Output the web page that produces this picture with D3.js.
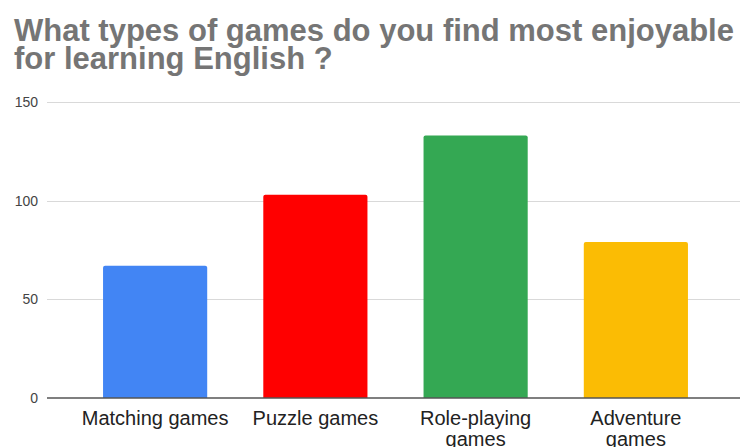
<!DOCTYPE html>
<html>
<head>
<meta charset="utf-8">
<script src="https://cdn.jsdelivr.net/npm/d3@7/dist/d3.min.js"></script>
<style>
  html, body { margin: 0; padding: 0; background: #fff; }
  svg { display: block; }
</style>
</head>
<body>
<svg id="chart" width="740" height="447"></svg>
<script>
// Survey answers: favourite game types for learning English
const categories = ["Matching games", "Puzzle games", "Role-playing games", "Adventure games"];
const categoryLines = [["Matching games"], ["Puzzle games"], ["Role-playing", "games"], ["Adventure", "games"]];
const counts = [67, 103, 133, 79];
const barColors = ["#4285F4", "#FF0000", "#34A853", "#FBBC04"];
const yTicks = [0, 50, 100, 150];
const titleLines = ["What types of games do you find most enjoyable", "for learning English ?"];

const W = 740, H = 447;
const svg = d3.select("#chart");
const font = "'Liberation Sans', Arial, sans-serif";

const plot = { left: 47, right: 740, top: 102, bottom: 398 };

const x = d3.scaleBand()
  .domain(categories)
  .range([75, 716])
  .paddingInner(0.35)
  .paddingOuter(0.175);

const y = d3.scaleLinear()
  .domain([0, 150])
  .range([plot.bottom, plot.top]);

// Title
const title = svg.append("g").attr("font-family", font).attr("font-weight", "bold")
  .attr("fill", "#757575").attr("font-size", 31);
title.selectAll("text").data(titleLines).enter().append("text")
  .attr("x", 14)
  .attr("y", (d, i) => 41 + i * 28)
  .text(d => d);

// Horizontal gridlines
svg.append("g").selectAll("line").data(yTicks.filter(t => t !== 0)).enter().append("line")
  .attr("x1", plot.left).attr("x2", plot.right)
  .attr("y1", d => Math.round(y(d)) + 0.5).attr("y2", d => Math.round(y(d)) + 0.5)
  .attr("stroke", "#d9d9d9").attr("stroke-width", 1);

// Y axis labels
const yAxis = d3.axisLeft(y).tickValues(yTicks).tickSize(0).tickPadding(0);
const yg = svg.append("g").attr("transform", "translate(38,0)").call(yAxis);
yg.select(".domain").remove();
yg.selectAll("text").attr("font-family", font).attr("font-size", 14).attr("fill", "#444");

// Bars with slightly rounded tops
const r = 2;
svg.append("g").selectAll("path").data(categories).enter().append("path")
  .attr("fill", (d, i) => barColors[i])
  .attr("d", (d, i) => {
    const x0 = x(d), x1 = x(d) + x.bandwidth();
    const y0 = y(counts[i]), yb = y(0);
    return `M${x0},${yb}V${y0 + r}Q${x0},${y0} ${x0 + r},${y0}H${x1 - r}Q${x1},${y0} ${x1},${y0 + r}V${yb}Z`;
  });

// Baseline
svg.append("line")
  .attr("x1", plot.left).attr("x2", plot.right)
  .attr("y1", y(0)).attr("y2", y(0))
  .attr("stroke", "#555").attr("stroke-width", 1.5);

// X axis labels
const xAxis = d3.axisBottom(x).tickSize(0).tickFormat("");
const xg = svg.append("g").attr("transform", `translate(0,${plot.bottom})`).call(xAxis);
xg.select(".domain").remove();
xg.selectAll(".tick").each(function(d, i) {
  const t = d3.select(this).append("text")
    .attr("font-family", font).attr("font-size", 20).attr("fill", "#222")
    .attr("text-anchor", "middle");
  categoryLines[i].forEach((line, j) => {
    t.append("tspan").attr("x", 0).attr("y", 27 + j * 21).text(line);
  });
});
</script>
</body>
</html>
